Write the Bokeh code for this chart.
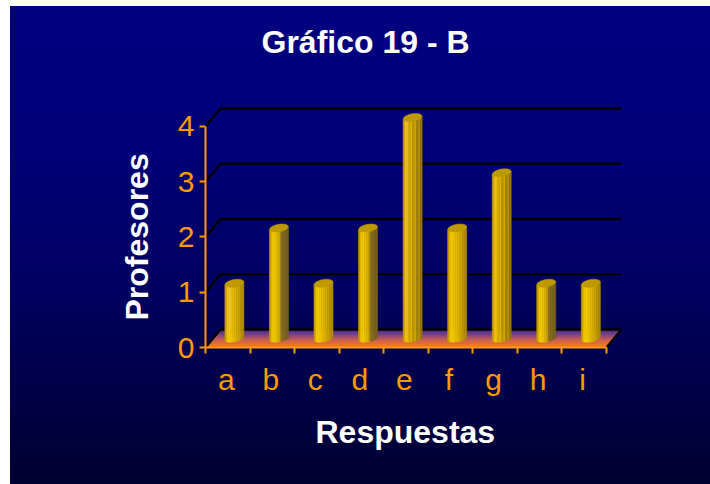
from bokeh.embed import file_html
from bokeh.resources import INLINE
from bokeh.plotting import figure
from bokeh.models import LinearAxis, FixedTicker, Title

categories = ["a", "b", "c", "d", "e", "f", "g", "h", "i"]
values = [1, 2, 1, 2, 4, 2, 3, 1, 1]
y_ticks = [0, 1, 2, 3, 4]
title_text = "Gráfico 19 - B"
x_title = "Respuestas"
y_title = "Profesores"
ORANGE = "#ff9900"
FONT = "Liberation Sans"

# depth of the 3D box, in axis units; the frame reaches a little higher so the title can sit clear of it
DX, DY = 0.337, 0.326
Y_END = 4.941
n = len(categories)

p = figure(width=700, height=478, output_backend="svg", toolbar_location=None,
           x_range=(0, n + DX), y_range=(0, Y_END),
           frame_width=416, frame_height=273,
           min_border_left=195, min_border_right=89, min_border_top=67, min_border_bottom=138,
           x_axis_location=None, y_axis_location=None,
           background_fill_alpha=0, border_fill_alpha=0, outline_line_color=None,
           margin=(6, 0, 0, 10))
p.styles = {"background": "linear-gradient(180deg,#000080 0%,#000078 30%,#000060 60%,#000030 100%)"}
p.grid.visible = False

# Axes
yax = LinearAxis(ticker=FixedTicker(ticks=y_ticks), bounds=(0, max(y_ticks)))
yax.axis_line_color = ORANGE; yax.axis_line_width = 2
yax.major_tick_line_color = ORANGE; yax.major_tick_line_width = 2
yax.major_tick_out = 6; yax.major_tick_in = 0; yax.minor_tick_line_color = None
yax.major_label_text_color = ORANGE; yax.major_label_text_font = FONT
yax.major_label_text_font_size = "30px"; yax.major_label_standoff = 5
p.add_layout(yax, "left")

centers = [i + 0.5 for i in range(n)]
label_at = [c - 0.035 for c in centers]
xax = LinearAxis(ticker=FixedTicker(ticks=label_at, minor_ticks=list(range(n + 1))), bounds=(0, n),
                 major_label_overrides={c: s for c, s in zip(label_at, categories)})
xax.axis_line_color = ORANGE; xax.axis_line_width = 2
xax.major_tick_line_color = None; xax.major_tick_out = 6; xax.major_tick_in = 0
xax.minor_tick_line_color = ORANGE; xax.minor_tick_line_width = 2
xax.minor_tick_out = 6; xax.minor_tick_in = 0
xax.major_label_text_color = ORANGE; xax.major_label_text_font = FONT
xax.major_label_text_font_size = "30px"; xax.major_label_standoff = 9
p.add_layout(xax, "below")


def name_title(text, align_offset, standoff):
    return Title(text=text, text_color="white", text_font=FONT, text_font_style="bold",
                 text_font_size="32px", align="left", offset=align_offset, standoff=standoff)


p.title = name_title(title_text, 56, 30)
p.add_layout(name_title(x_title, 110, 26), "below")
p.add_layout(name_title(y_title, 27, 39), "left")

# Floor, in bands from the back (purple) to the front (orange)
floor_cols = ["#46348e", "#603a8c", "#7c4484", "#9a4e76", "#b65a64", "#d06450", "#e46c40", "#f27432", "#f87a2c"]
m = len(floor_cols)
for k, col in enumerate(floor_cols):
    d1 = DY * (1 - k / m)
    d0 = DY * (1 - (k + 1) / m)
    f1, f0 = d1 / DY * DX, d0 / DY * DX
    p.patch([f0, n + f0, n + f1, f1], [d0, d0, d1, d1], fill_color=col, line_color=col, line_width=0.5)

# Back wall gridlines with their diagonals
for v in y_ticks:
    p.line([0, DX, n + DX], [v, v + DY, v + DY], line_color="black", line_width=2.3)
p.line([n, n + DX], [0, DY], line_color="black", line_width=2.3)

# Cylinders: vertical strips shaded across the width, with elliptical caps
BAR_W = 19 / 44.5
palettes = {
    "plain": ["#c49800", "#f0c400", "#f4cc00", "#eec400", "#e6bc00", "#dcb400", "#d4ac00", "#c8a000", "#bc9600", "#ae8a00"],
    "glass": ["#c49800", "#f0c400", "#f4cc00", "#e8c000", "#dcb400", "#c8a400", "#8c7020", "#84691e", "#7c6420", "#76601e"],
    "lined": ["#c49800", "#f0c400", "#e8bc00", "#d0a800", "#e0b400", "#b89400", "#d0a800", "#a08000", "#b89200", "#947600"],
}
styles = ["plain", "glass", "plain", "glass", "lined", "plain", "lined", "glass", "plain"]
cap_h = 0.06
for c, v, st in zip(centers, values, styles):
    cx = c + DX / 2 - 0.02
    base = DY / 2
    pal = palettes[st]
    s = len(pal)
    for j, col in enumerate(pal):
        t0 = -1 + 2 * j / s
        t1 = -1 + 2 * (j + 1) / s
        tm = (t0 + t1) / 2
        low = base - cap_h * (1 - tm * tm) ** 0.5 + 0.03 * tm
        p.quad(left=cx + t0 * BAR_W / 2, right=cx + t1 * BAR_W / 2,
               bottom=low, top=base + v + 0.03 * tm,
               fill_color=col, line_color=col, line_width=0.6)
    p.ellipse(x=[cx], y=[base + v], width=19, height=7.5,
              width_units="screen", height_units="screen", angle=0.18,
              fill_color="#bf9900", line_color="#bf9900", line_width=0.5)

open("out.html", "w").write(file_html(p, INLINE))
